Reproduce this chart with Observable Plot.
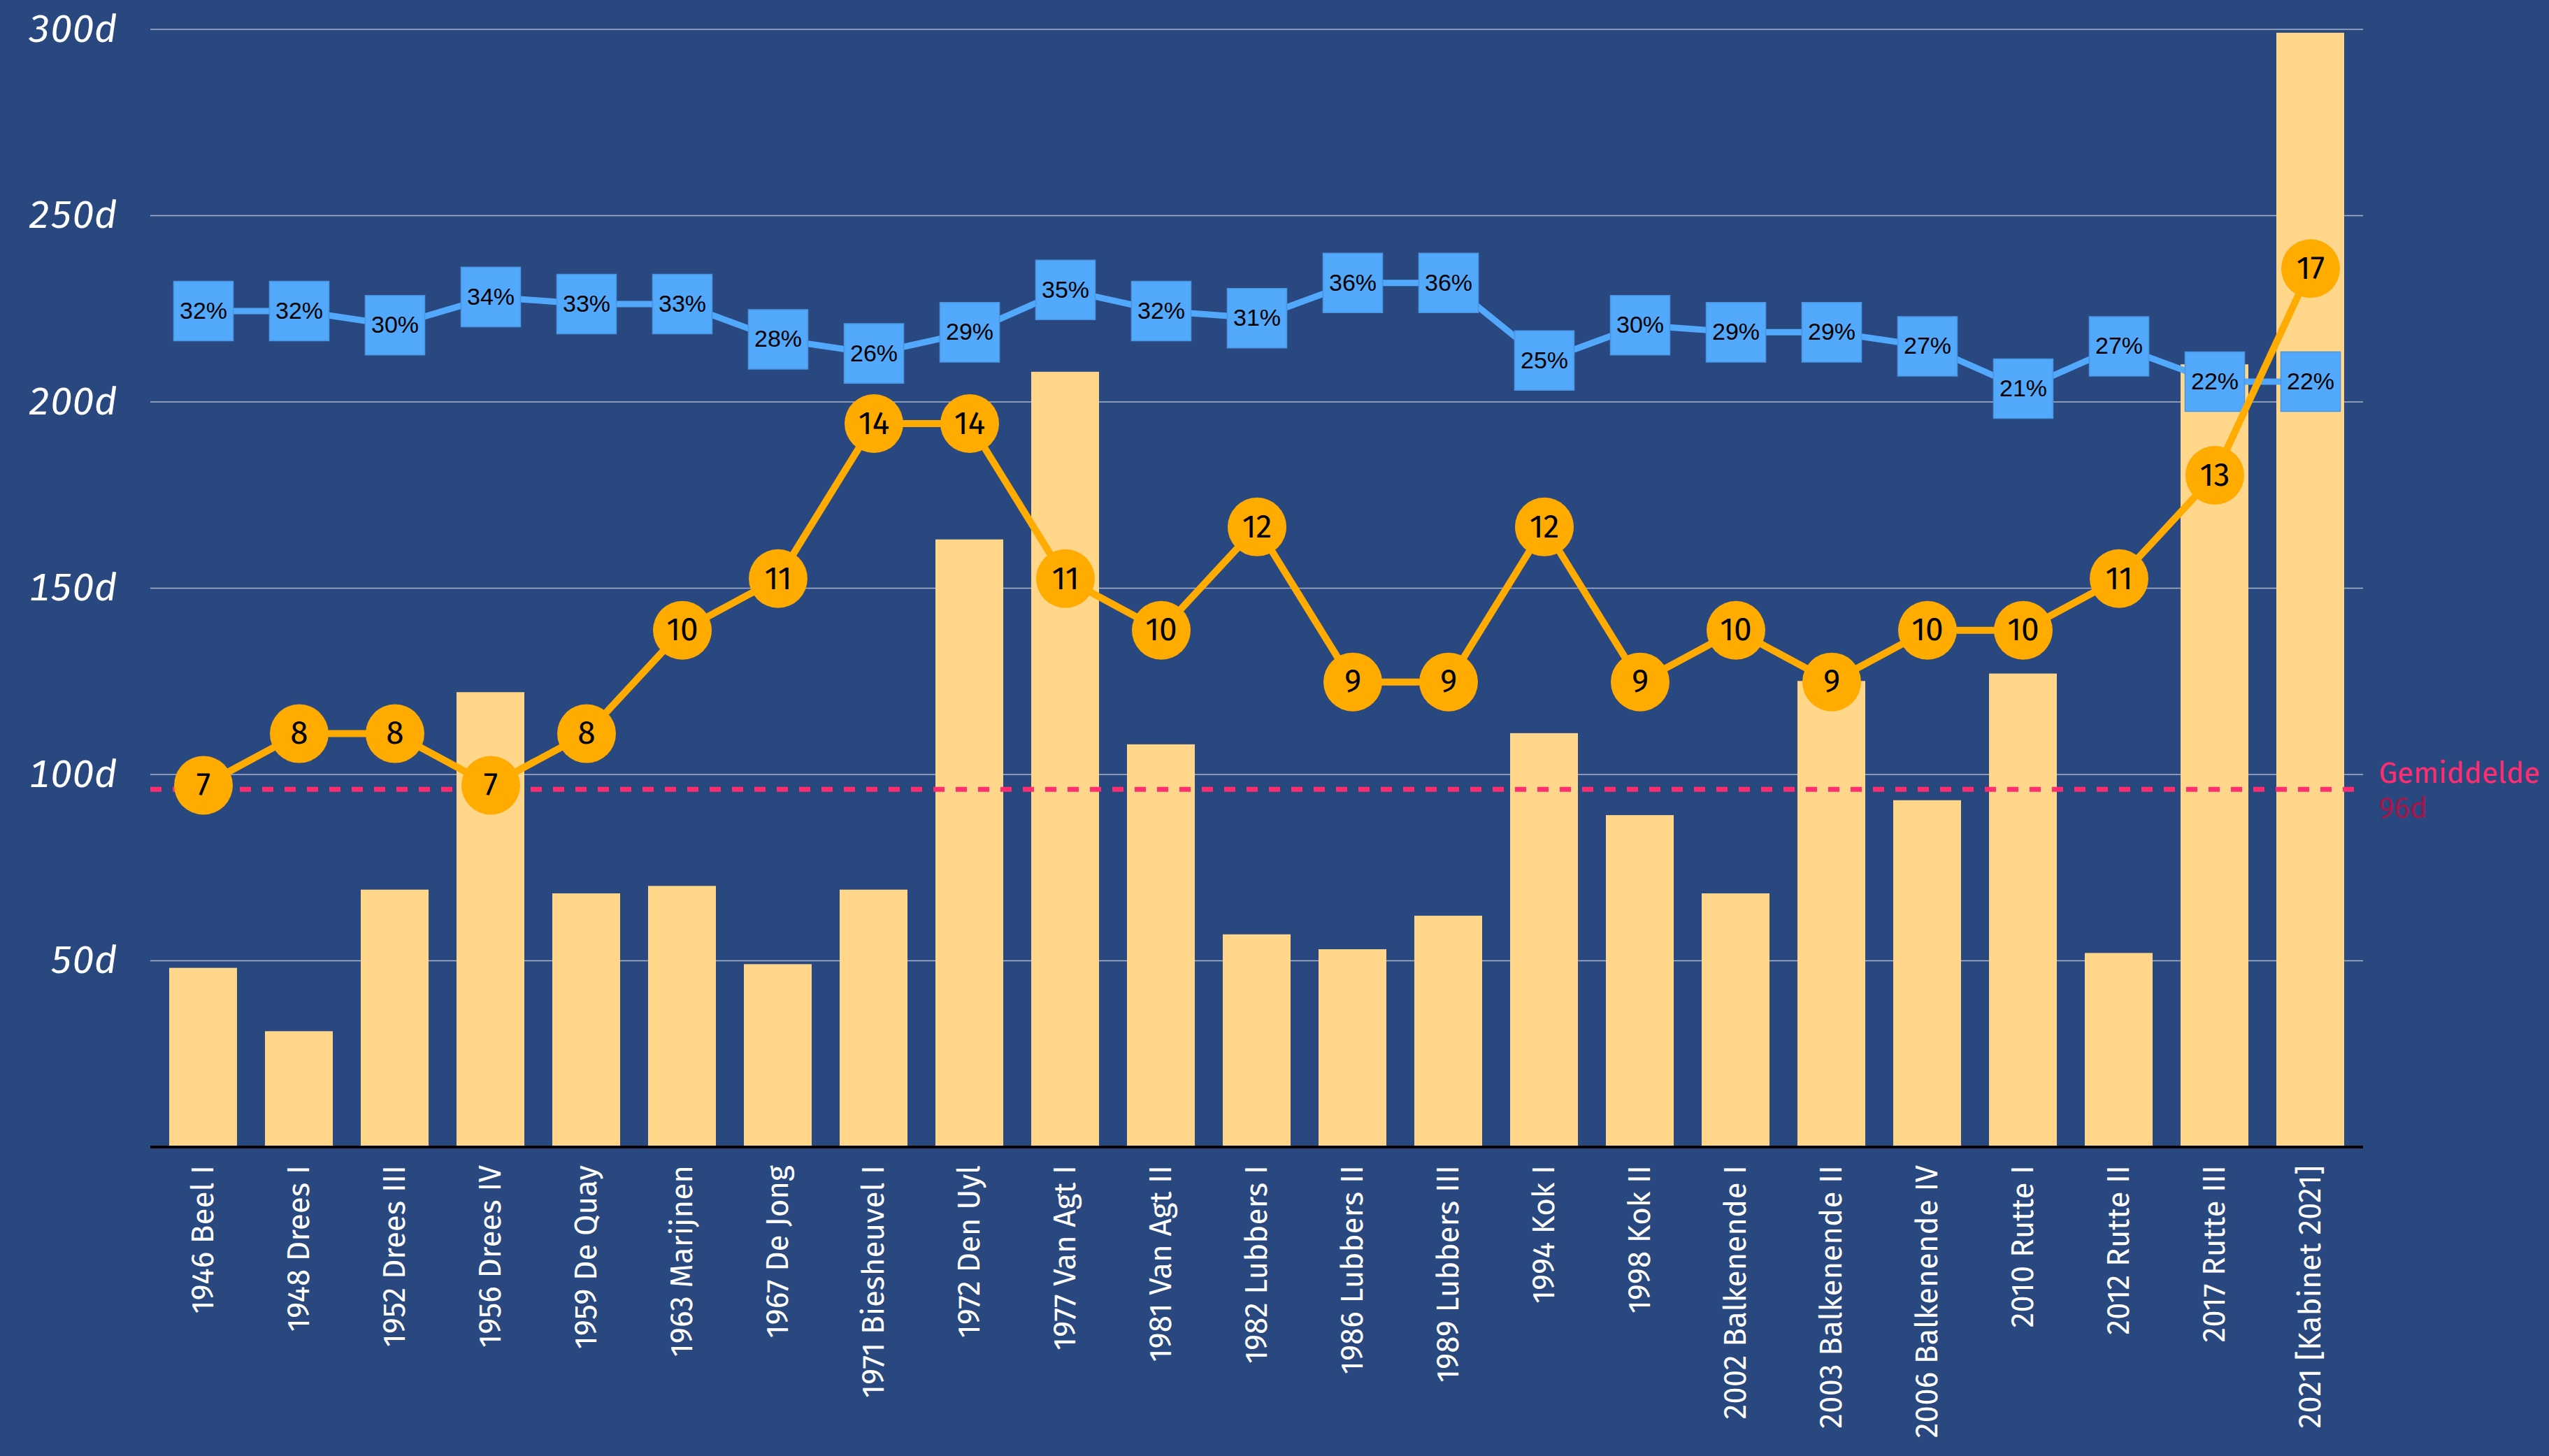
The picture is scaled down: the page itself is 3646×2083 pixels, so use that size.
<!DOCTYPE html>
<html>
<head>
<meta charset="utf-8">
<script src="https://cdn.jsdelivr.net/npm/d3@7"></script>
<script src="https://cdn.jsdelivr.net/npm/@observablehq/plot@0.6"></script>
<style>
  html, body { margin: 0; padding: 0; background: #2a4880; }
  #chart svg [aria-label="y-axis tick label"] { font-style: italic; }
</style>
</head>
<body>
<div id="chart"></div>
<script>
// Kabinetsformaties
const names = [
  "1946 Beel I", "1948 Drees I", "1952 Drees III", "1956 Drees IV", "1959 De Quay",
  "1963 Marijnen", "1967 De Jong", "1971 Biesheuvel I", "1972 Den Uyl", "1977 Van Agt I",
  "1981 Van Agt II", "1982 Lubbers I", "1986 Lubbers II", "1989 Lubbers III", "1994 Kok I",
  "1998 Kok II", "2002 Balkenende I", "2003 Balkenende II", "2006 Balkenende IV", "2010 Rutte I",
  "2012 Rutte II", "2017 Rutte III", "2021 [Kabinet 2021]"
];
// duur formatie (dagen)
const days = [48, 31, 69, 122, 68, 70, 49, 69, 163, 208, 108, 57, 53, 62, 111, 89, 68, 125, 93, 127, 52, 210, 299];
// aantal partijen (oranje cirkels)
const parties = [7, 8, 8, 7, 8, 10, 11, 14, 14, 11, 10, 12, 9, 9, 12, 9, 10, 9, 10, 10, 11, 13, 17];
// percentage (blauwe vierkanten)
const percents = [32, 32, 30, 34, 33, 33, 28, 26, 29, 35, 32, 31, 36, 36, 25, 30, 29, 29, 27, 21, 27, 22, 22];
const yTicks = [50, 100, 150, 200, 250, 300];
const MEAN = 96;

// secondary-series mappings onto the day scale
const partyScale = 13.87;
const pctBase = 163.8, pctScale = 1.893;

const data = names.map((name, i) => ({
  name,
  days: days[i],
  parties: parties[i],
  pct: percents[i],
  py: parties[i] * partyScale,
  qy: pctBase + pctScale * percents[i]
}));

const BG = "#2a4880";
const FONT = "'Fira Sans', 'Open Sans', 'Noto Sans', sans-serif";

const chart = Plot.plot({
  width: 3646,
  height: 2083,
  marginLeft: 215,
  marginRight: 266,
  marginTop: 41.5,
  marginBottom: 442.5,
  style: { background: BG, color: "white", fontFamily: FONT, overflow: "visible" },
  x: { domain: names, paddingInner: 0.29, paddingOuter: 0.145, label: null },
  y: { domain: [0, 300], label: null },
  marks: [
    Plot.gridY(yTicks, { stroke: "#aab3c8", strokeOpacity: 1, strokeWidth: 1.5 }),
    Plot.axisY(yTicks, {
      tickSize: 0, tickPadding: 48, tickFormat: d => d + "d",
      fontSize: 56, fontStyle: "italic", fill: "white", label: null
    }),
    Plot.barY(data, { x: "name", y: "days", fill: "#ffd68a" }),
    Plot.ruleY([0], { stroke: "black", strokeWidth: 4 }),
    Plot.axisX({
      tickRotate: -90, tickSize: 0, tickPadding: 26,
      fontSize: 44, fill: "white", label: null
    }),
    Plot.ruleY([MEAN], { stroke: "#ff2d6f", strokeWidth: 7, strokeDasharray: "16,16" }),
    Plot.text([MEAN], {
      y: d => d, frameAnchor: "right", dx: 22, dy: -23, textAnchor: "start",
      text: () => "Gemiddelde", fill: "#ff2d6f", fontSize: 42
    }),
    Plot.text([MEAN], {
      y: d => d, frameAnchor: "right", dx: 22, dy: 27, textAnchor: "start",
      text: d => d + "d", fill: "#a3174b", fontSize: 42
    }),
    // blue series
    Plot.line(data, { x: "name", y: "qy", stroke: "#52a8fa", strokeWidth: 9 }),
    Plot.dot(data, {
      x: "name", y: "qy", symbol: "square", r: 48,
      fill: "#52a8fa", stroke: "#4a95e2", strokeWidth: 1.5
    }),
    Plot.text(data, {
      x: "name", y: "qy", text: d => d.pct + "%",
      fill: "black", fontSize: 34, fontFamily: "'Liberation Sans', Arial, sans-serif"
    }),
    // orange series
    Plot.line(data, { x: "name", y: "py", stroke: "#ffab00", strokeWidth: 10 }),
    Plot.dot(data, { x: "name", y: "py", r: 42, fill: "#ffab00" }),
    Plot.text(data, {
      x: "name", y: "py", text: d => String(d.parties),
      fill: "black", fontSize: 46
    })
  ]
});

document.getElementById("chart").appendChild(chart);
</script>
</body>
</html>
